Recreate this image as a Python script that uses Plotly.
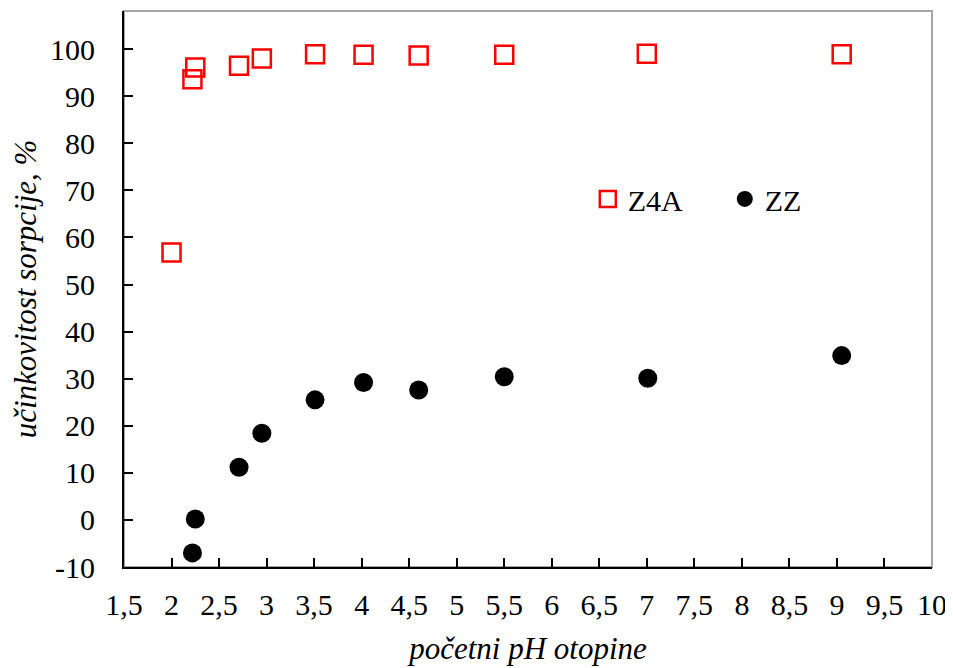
import plotly.graph_objects as go

ph_z4a = [2.0, 2.22, 2.25, 2.71, 2.95, 3.51, 4.02, 4.60, 5.5, 7.0, 9.05]
z4a = [56.8, 93.6, 96.1, 96.45, 98.0, 98.9, 98.8, 98.65, 98.8, 99.0, 98.9]

ph_zz = [2.22, 2.25, 2.71, 2.95, 3.51, 4.02, 4.60, 5.5, 7.01, 9.05]
zz = [-7.0, 0.2, 11.2, 18.4, 25.5, 29.2, 27.6, 30.4, 30.1, 34.9]

x_ticks = [1.5, 2, 2.5, 3, 3.5, 4, 4.5, 5, 5.5, 6, 6.5, 7, 7.5, 8, 8.5, 9, 9.5, 10]
x_labels = [str(v).replace(".", ",") for v in x_ticks]
y_ticks = list(range(-10, 101, 10))
y_labels = [str(v) for v in y_ticks]

FONT = "Liberation Serif"

fig = go.Figure()
fig.add_trace(go.Scatter(
    x=ph_z4a, y=z4a, mode="markers", name="Z4A",
    marker=dict(symbol="square-open", size=18, color="#ff0000",
                line=dict(width=2.5, color="#ff0000")),
))
fig.add_trace(go.Scatter(
    x=ph_zz, y=zz, mode="markers", name="ZZ",
    marker=dict(symbol="circle", size=19, color="#000000"),
))

fig.add_shape(type="rect", xref="paper", yref="paper", x0=0, y0=0, x1=1, y1=1,
              line=dict(color="#a6a6a6", width=2), layer="below")

fig.update_layout(
    width=945, height=660,
    margin=dict(l=116, r=21, t=3, b=101),
    paper_bgcolor="white", plot_bgcolor="white",
    font=dict(family=FONT, size=30, color="black"),
    showlegend=True,
    legend=dict(orientation="h", x=0.574, y=0.662, xanchor="left", yanchor="middle",
                bgcolor="rgba(0,0,0,0)", font=dict(size=30, family=FONT),
                entrywidth=92, itemsizing="trace"),
    xaxis=dict(range=[1.5, 10], tickvals=x_ticks, ticktext=x_labels,
               showgrid=False, zeroline=False, showline=True, linecolor="black",
               linewidth=2, ticks="inside", ticklen=9, tickwidth=1.5, tickcolor="black",
               tickfont=dict(size=30, family=FONT), ticklabelstandoff=10,
               title=dict(text="<i>početni pH otopine</i>", font=dict(size=31, family=FONT),
                          standoff=17)),
    yaxis=dict(range=[-10, 108.1], tickvals=y_ticks, ticktext=y_labels,
               showgrid=False, zeroline=False, showline=True, linecolor="black",
               linewidth=2, ticks="inside", ticklen=9, tickwidth=1.5, tickcolor="black",
               tickfont=dict(size=30, family=FONT), ticklabelstandoff=21,
               title=dict(text="<i>učinkovitost sorpcije, %</i>", font=dict(size=31, family=FONT),
                          standoff=8)),
)

fig.write_html("out.html")
